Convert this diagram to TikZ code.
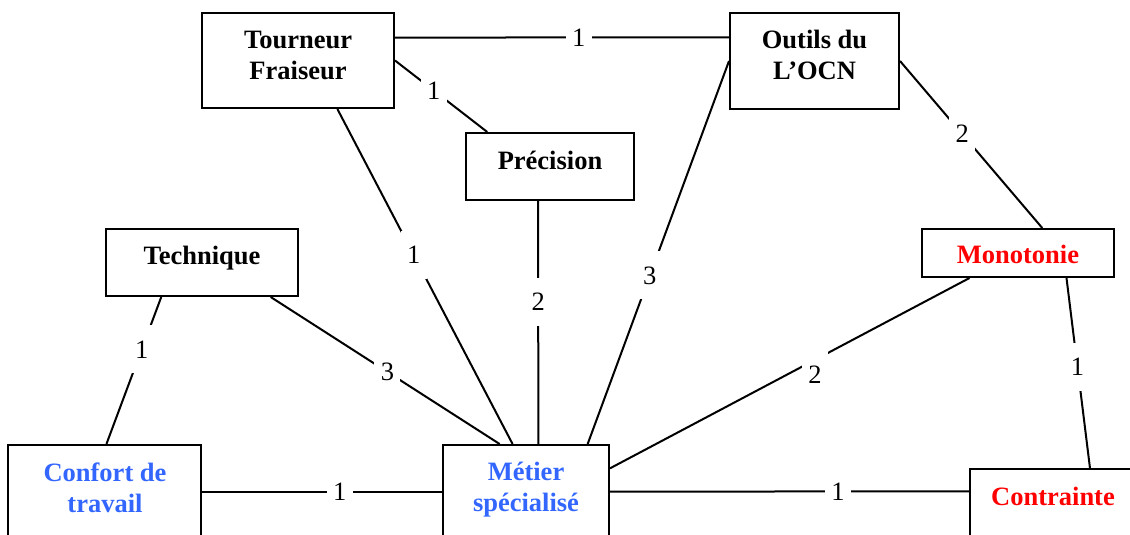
\documentclass[tikz,border=0pt]{standalone}
\usepackage{fontspec}
\setmainfont{Liberation Serif}
\usetikzlibrary{calc}
\definecolor{myblue}{RGB}{51,102,255}
\definecolor{myred}{RGB}{255,0,0}
\begin{document}
\begin{tikzpicture}[x=1pt,y=-1pt,
  box/.style={draw, line width=2pt, inner sep=0pt},
  txt/.style={inner sep=0pt, align=center, font=\fontsize{26.5}{31}\selectfont\bfseries},
  link/.style={line width=2pt},
  lbl/.style={fill=white, inner sep=0pt, minimum width=26pt, minimum height=48pt, font=\fontsize{26.5}{31}\selectfont}]
\clip (0,0) rectangle (1130,535);
% boxes
\node[box, minimum width=192pt, minimum height=95pt] (tf) at (298,60.5) {};
\node[box, minimum width=169pt, minimum height=96pt] (outils) at (814.5,61) {};
\node[box, minimum width=168pt, minimum height=67pt] (prec) at (550,166.5) {};
\node[box, minimum width=192pt, minimum height=67pt] (tech) at (202,262.5) {};
\node[box, minimum width=192pt, minimum height=48pt] (mono) at (1018,253) {};
\node[box, minimum width=193pt, minimum height=155pt] (confort) at (104.5,522.5) {};
\node[box, minimum width=166pt, minimum height=155pt] (metier) at (526,522.5) {};
\node[box, minimum width=190pt, minimum height=131pt] (contr) at (1065,534.5) {};
% texts
\node[txt] (tfT) at (298,55) {Tourneur\\Fraiseur};
\node[txt] (outilsT) at (814.5,54.5) {Outils du\\L’OCN};
\node[txt, anchor=base] (precT) at (550,169) {Précision};
\node[txt, anchor=base] (techT) at (202,264) {Technique};
\node[txt, anchor=base, text=myred] (monoT) at (1018,263) {Monotonie};
\node[txt, text=myblue] (confortT) at (105,488) {Confort de\\travail};
\node[txt, text=myblue] (metierT) at (526,489.5) {Métier\\spécialisé};
\node[txt, anchor=base, text=myred] (contrT) at (1053,505) {Contrainte};
% connectors
\draw[link] ($(tf.north east)!0.263!(tf.south east)$) -- node[lbl, pos=0.55] (l1) {1} ($(outils.north west)!0.26!(outils.south west)$);
\draw[link] (tf.east) -- node[lbl, pos=0.42] (l2) {1} ($(prec.north west)!0.131!(prec.north east)$);
\draw[link] ($(tf.south west)!0.703!(tf.south east)$) -- node[lbl, pos=0.436] (l3) {1} ($(metier.north west)!0.42!(metier.north east)$);
\draw[link] ($(prec.south west)!0.43!(prec.south east)$) -- node[lbl, pos=0.416] (l4) {2} ($(metier.north west)!0.5735!(metier.north east)$);
\draw[link] (outils.west) -- node[lbl, pos=0.56] (l5) {3} ($(metier.north west)!0.867!(metier.north east)$);
\draw[link] (outils.east) -- node[lbl, pos=0.437] (l6) {2} ($(mono.north west)!0.625!(mono.north east)$);
\draw[link] ($(tech.south west)!0.29!(tech.south east)$) -- node[lbl, pos=0.356] (l7) {1} ($(confort.north west)!0.51!(confort.north east)$);
\draw[link] ($(tech.south west)!0.854!(tech.south east)$) -- node[lbl, pos=0.51] (l8) {3} ($(metier.north west)!0.343!(metier.north east)$);
\draw[link] ($(mono.south west)!0.25!(mono.south east)$) -- node[lbl, pos=0.43, yshift=-15pt] (l9) {2} ($(metier.north east)!0.155!(metier.south east)$);
\draw[link] ($(mono.south west)!0.75!(mono.south east)$) -- node[lbl, pos=0.466] (l10) {1} ($(contr.north west)!0.63!(contr.north east)$);
\draw[link] ($(confort.north east)!0.303!(confort.south east)$) -- node[lbl, pos=0.574] (l11) {1} ($(metier.north west)!0.303!(metier.south west)$);
\draw[link] ($(metier.north east)!0.303!(metier.south east)$) -- node[lbl, pos=0.635] (l12) {1} ($(contr.north west)!0.176!(contr.south west)$);
\end{tikzpicture}
\end{document}
